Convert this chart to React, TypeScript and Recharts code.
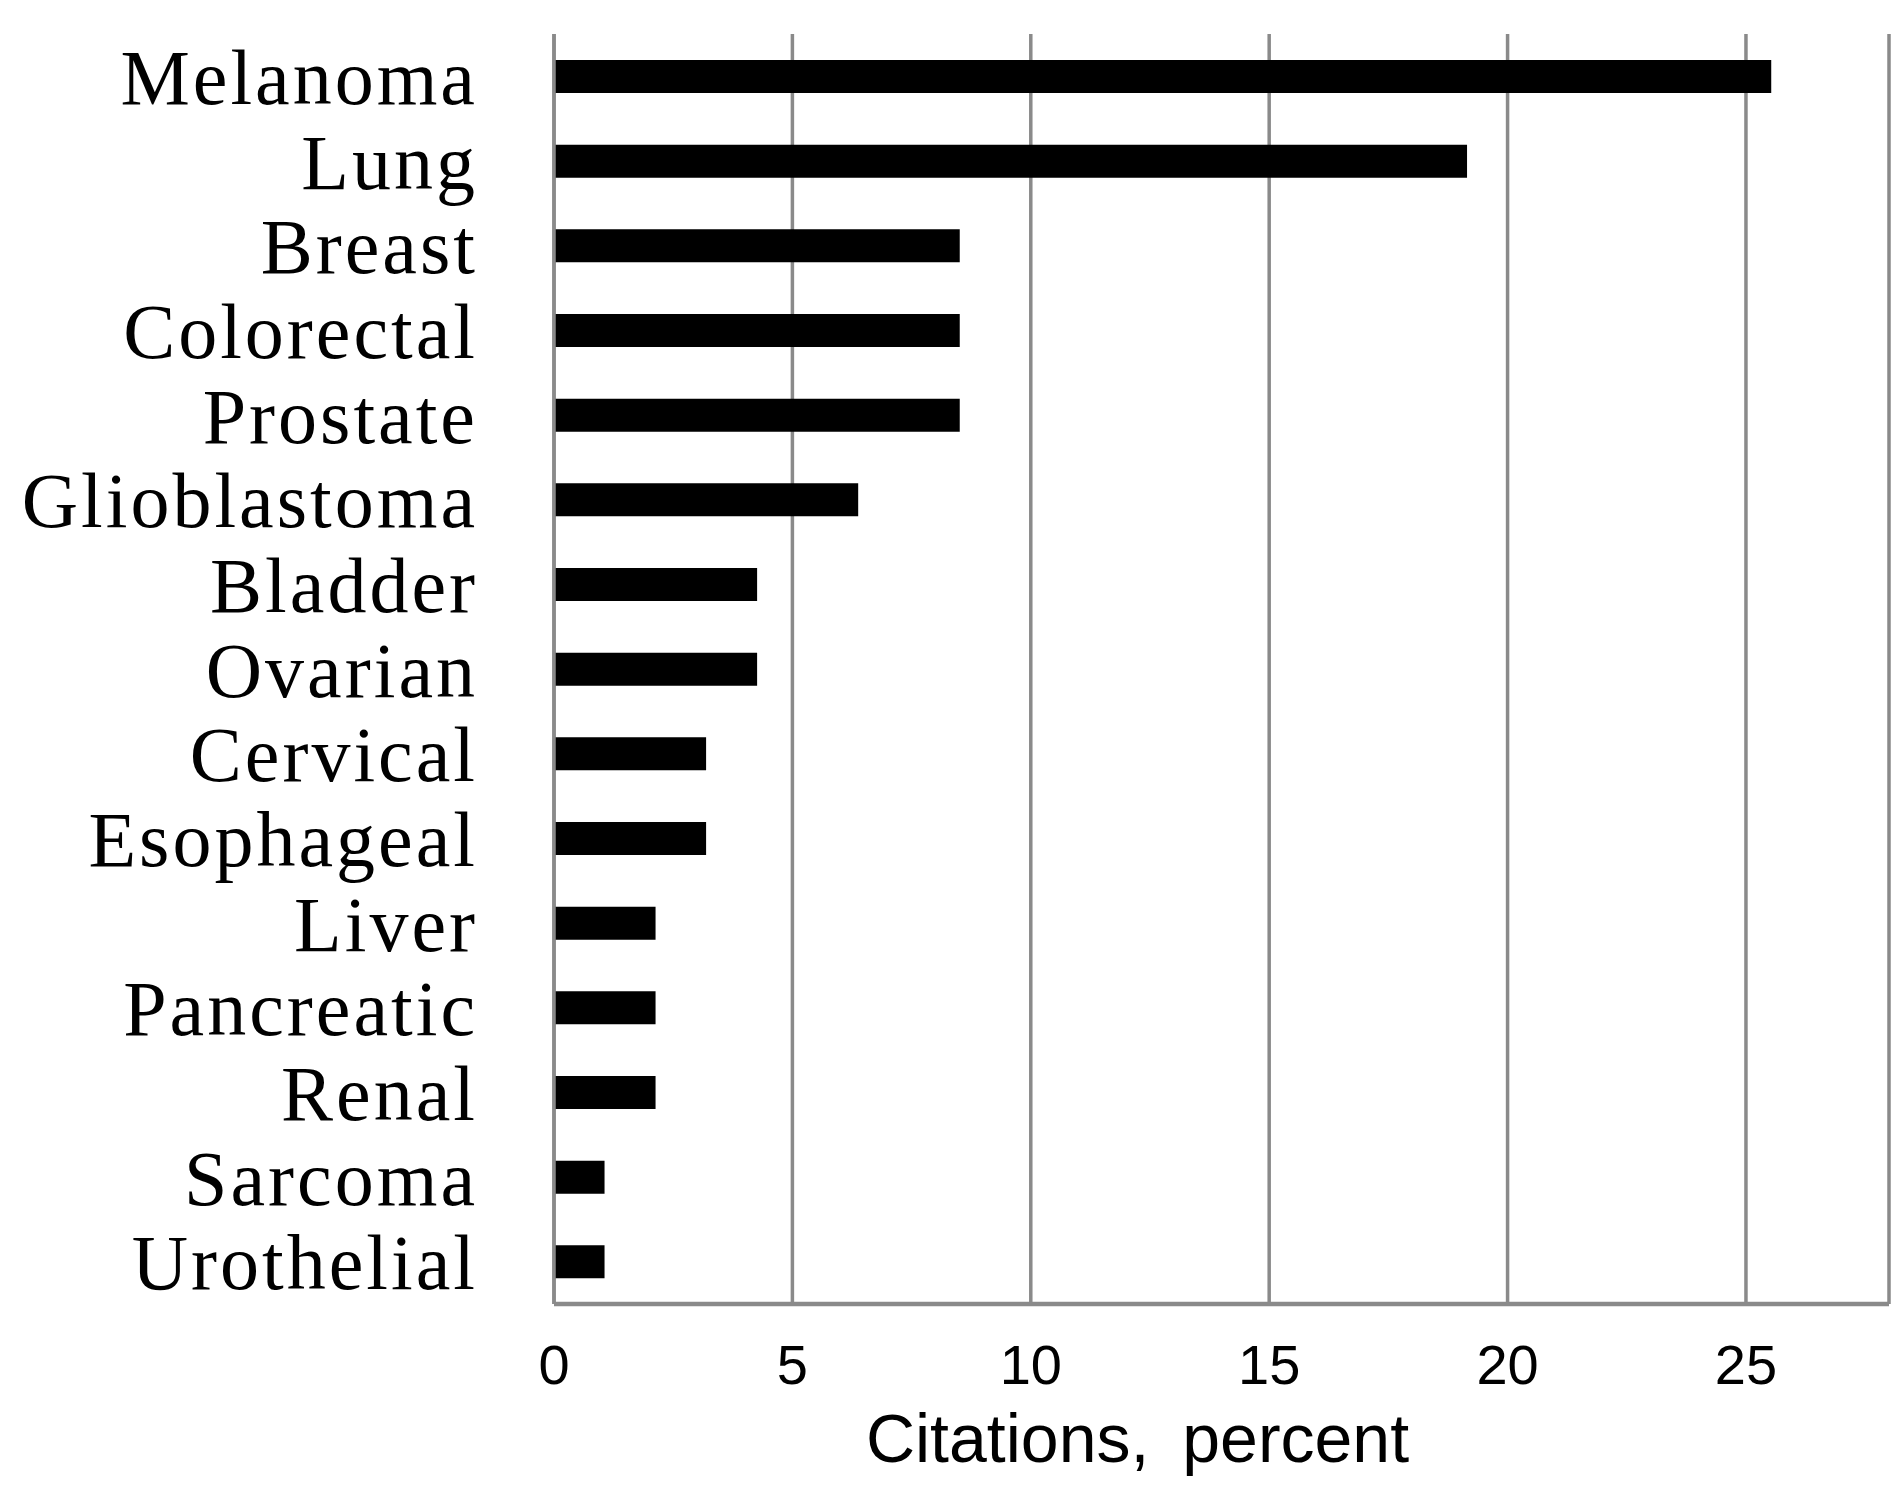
import React from 'react';
import { BarChart, Bar, XAxis, YAxis, CartesianGrid } from 'recharts';

const CANCERS = [
  'Melanoma', 'Lung', 'Breast', 'Colorectal', 'Prostate', 'Glioblastoma', 'Bladder',
  'Ovarian', 'Cervical', 'Esophageal', 'Liver', 'Pancreatic', 'Renal', 'Sarcoma', 'Urothelial',
];
const PERCENTS = [25.53, 19.15, 8.51, 8.51, 8.51, 6.38, 4.26, 4.26, 3.19, 3.19, 2.13, 2.13, 2.13, 1.06, 1.06];
const X_TICKS = [0, 5, 10, 15, 20, 25];

const data = CANCERS.map((name, i) => ({ name, value: PERCENTS[i] }));

const GRAY = '#8a8a8a';

const App: React.FC = () => {
  return (
    <div style={{ position: 'absolute', left: 0, top: 0, background: '#fff' }}>
      <BarChart
        width={1901}
        height={1492}
        data={data}
        layout="vertical"
        margin={{ top: 34, right: 12, left: 0, bottom: 0 }}
      >
        <CartesianGrid horizontal={false} stroke={GRAY} strokeWidth={3.5} />
        <XAxis
          type="number"
          domain={[0, 28]}
          ticks={X_TICKS}
          height={188}
          tickLine={false}
          tickSize={0}
          tickMargin={40}
          axisLine={{ stroke: GRAY, strokeWidth: 4.5 }}
          tick={{ fontSize: 56, fontFamily: 'Liberation Sans', fill: '#000' }}
          label={{
            value: 'Citations, percent',
            position: 'insideBottom',
            offset: 30,
            dx: -84,
            style: { fontSize: 68, fontFamily: 'Liberation Sans', fill: '#000', wordSpacing: 14 },
          }}
        />
        <YAxis
          type="category"
          dataKey="name"
          width={554}
          tickLine={false}
          tickSize={0}
          tickMargin={76}
          interval={0}
          axisLine={{ stroke: GRAY, strokeWidth: 3.5 }}
          tick={{ fontSize: 78, fontFamily: 'Liberation Serif', fill: '#000', letterSpacing: 3 }}
        />
        <Bar dataKey="value" fill="#000" barSize={33} isAnimationActive={false} />
      </BarChart>
    </div>
  );
};

export default App;
